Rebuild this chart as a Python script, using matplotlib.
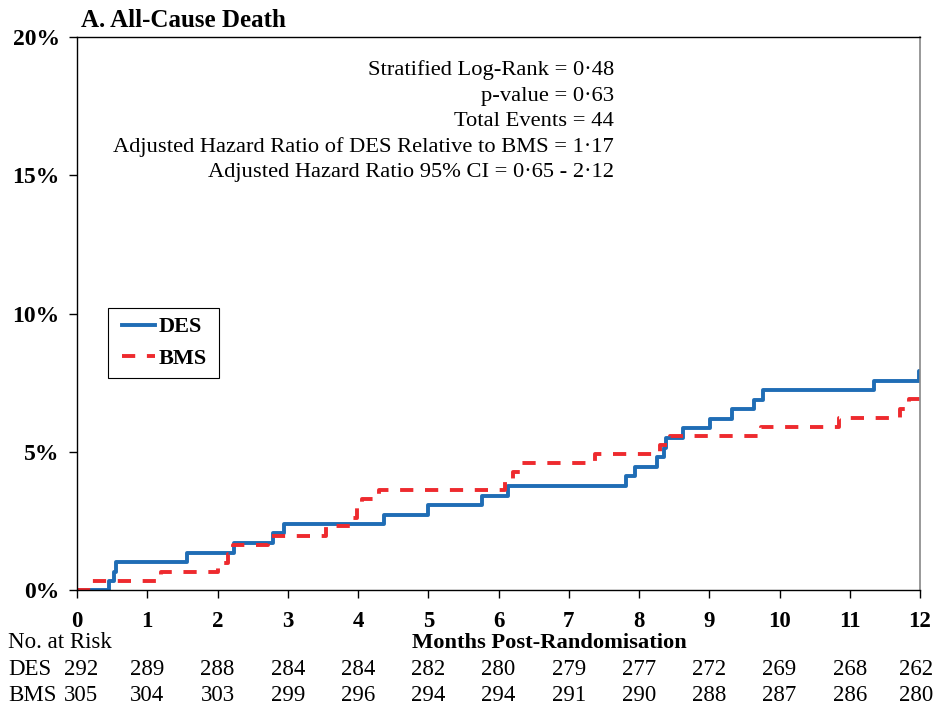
import matplotlib
matplotlib.use("Agg")
import matplotlib.pyplot as plt
from matplotlib.lines import Line2D
from matplotlib.legend_handler import HandlerLine2D

plt.rcParams['font.family'] = ['Liberation Serif', 'DejaVu Serif']

# cumulative incidence (%) step curves
des_t = [0, 0.46, 0.52, 0.555, 1.57, 2.235, 2.795, 2.95, 4.37, 5.0, 5.77, 6.14,
         7.82, 7.95, 8.25, 8.35, 8.38, 8.62, 9.01, 9.33, 9.64, 9.77, 11.35, 11.99, 12]
des_y = [0, 0.33, 0.66, 1.0, 1.35, 1.69, 2.05, 2.39, 2.71, 3.07, 3.41, 3.77,
         4.12, 4.46, 4.80, 5.15, 5.48, 5.85, 6.18, 6.53, 6.87, 7.22, 7.56, 7.92, 7.92]
bms_t = [0, 0.2, 1.2, 2.0, 2.15, 2.22, 2.72, 3.55, 3.93, 3.98, 4.05, 4.3,
         6.09, 6.2, 6.3, 7.37, 8.3, 8.44, 9.73, 10.85, 11.72, 11.85, 12]
bms_y = [0, 0.33, 0.66, 0.98, 1.31, 1.64, 1.97, 2.30, 2.62, 2.95, 3.28, 3.61,
         3.93, 4.26, 4.59, 4.92, 5.25, 5.57, 5.90, 6.23, 6.56, 6.89, 6.89]

months = list(range(13))
des_risk = [292, 289, 288, 284, 284, 282, 280, 279, 277, 272, 269, 268, 262]
bms_risk = [305, 304, 303, 299, 296, 294, 294, 291, 290, 288, 287, 286, 280]

stats = ["Stratified Log-Rank = 0\u00b748",
         "p-value = 0\u00b763",
         "Total Events = 44",
         "Adjusted Hazard Ratio of DES Relative to BMS = 1\u00b717",
         "Adjusted Hazard Ratio 95% CI = 0\u00b765 - 2\u00b712"]

blue = '#1f6db5'
red = '#ee2a2e'
lw = 2.8
dash = (3.4, 3.0)

fig = plt.figure(figsize=(9.36, 7.06), dpi=100)
ax = fig.add_axes([77/936, 116/706, 843/936, 553/706])

ax.step(des_t, des_y, where='post', color=blue, lw=lw)
ax.step(bms_t, bms_y, where='post', color=red, lw=lw, dashes=dash)

ax.set_xlim(0, 12)
ax.set_ylim(0, 20)
ax.set_xticks(months)
ax.set_xticklabels([str(m) for m in months], fontsize=16.5, fontweight='bold')
ax.set_yticks([0, 5, 10, 15, 20])
ax.set_yticklabels(['0%', '5%', '10%', '15%', '20%'], fontsize=17, fontweight='bold')
ax.tick_params(axis='x', direction='out', length=6, width=1, pad=9)
ax.tick_params(axis='y', direction='out', length=6, width=1, pad=6.5)
for s in ['left', 'bottom', 'top']:
    ax.spines[s].set_linewidth(1)
    ax.spines[s].set_color('black')
ax.spines['right'].set_color('#888888')
ax.spines['right'].set_linewidth(1.2)

for i, line in enumerate(stats):
    ax.text(0.637, 0.931 - i * 0.0461, line, transform=ax.transAxes,
            ha='right', va='baseline', fontsize=16.2)

handles = [Line2D([], [], color=blue, lw=lw),
           Line2D([], [], color=red, lw=lw, dashes=dash)]
leg = ax.legend(handles, ['DES', 'BMS'], loc='upper left',
                bbox_to_anchor=(0.0368, 0.3, 0.1317, 0.21), mode='expand',
                prop={'weight': 'bold', 'size': 16}, handlelength=1.72,
                handler_map={Line2D: HandlerLine2D(xpad=0.23)},
                handletextpad=0.15, fancybox=False, framealpha=1,
                borderpad=0.4, labelspacing=0.5, borderaxespad=0)
leg.get_frame().set_edgecolor('black')
leg.get_frame().set_linewidth(0.8)

fig.text(81/936, 1 - 26.7/706, "A. All-Cause Death", fontsize=18, fontweight='bold',
         va='baseline', ha='left')

xt = ax.get_xaxis_transform()
ax.text(6.72, -0.105, "Months Post-Randomisation", transform=xt, ha='center',
        va='baseline', fontsize=16.2, fontweight='bold')
fig.text(8/936, 1 - 648/706, "No. at Risk", fontsize=16.5, va='baseline', ha='left')
fig.text(8/936, 1 - 675/706, "DES", fontsize=16.5, va='baseline', ha='left')
fig.text(8/936, 1 - 701/706, "BMS", fontsize=16.5, va='baseline', ha='left')
for m, d, b in zip(months, des_risk, bms_risk):
    xpos = m
    if m == 0:
        xpos = 0.06
    elif m == 12:
        xpos = 11.94
    ax.text(xpos, -0.1537, str(d), transform=xt, ha='center', va='baseline', fontsize=16.5)
    ax.text(xpos, -0.2005, str(b), transform=xt, ha='center', va='baseline', fontsize=16.5)

fig.savefig('out.png', dpi=100)
